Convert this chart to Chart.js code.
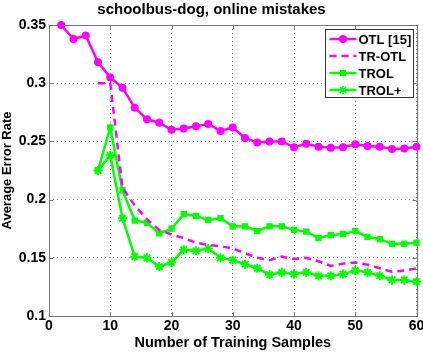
<!DOCTYPE html>
<html>
<head>
<meta charset="utf-8">
<script src="https://cdn.jsdelivr.net/npm/chart.js@4/dist/chart.umd.min.js"></script>
<style>
  html, body { margin: 0; padding: 0; background: #fff; }
  #wrap { width: 423px; height: 352px; position: relative; }
</style>
</head>
<body>
<div id="wrap"><canvas id="myChart"></canvas></div>
<script>
// values
var otlX = [2, 4, 6, 8, 10, 12, 14, 16, 18, 20, 22, 24, 26, 28, 30, 32, 34, 36, 38, 40, 42, 44, 46, 48, 50, 52, 54, 56, 58, 60];
var otlY = [0.350, 0.338, 0.341, 0.318, 0.305, 0.296, 0.279, 0.269, 0.266, 0.260, 0.261, 0.263, 0.265, 0.259, 0.262,
            0.253, 0.249, 0.250, 0.250, 0.245, 0.248, 0.2455, 0.2445, 0.245, 0.2475, 0.246, 0.2455, 0.2435, 0.244, 0.2455];

var sampleX = [8, 10, 12, 14, 16, 18, 20, 22, 24, 26, 28, 30, 32, 34, 36, 38, 40, 42, 44, 46, 48, 50, 52, 54, 56, 58, 60];
var trOtlY = [0.300, 0.300, 0.210, 0.195, 0.183, 0.174, 0.170, 0.167, 0.163, 0.161, 0.160, 0.158, 0.154, 0.150,
              0.148, 0.151, 0.149, 0.150, 0.147, 0.143, 0.145, 0.146, 0.144, 0.141, 0.138, 0.139, 0.141];
var trolY = [0.225, 0.262, 0.208, 0.182, 0.180, 0.171, 0.175, 0.1875, 0.186, 0.1825, 0.184, 0.177, 0.177, 0.173,
             0.177, 0.177, 0.174, 0.1725, 0.167, 0.1695, 0.1705, 0.173, 0.168, 0.166, 0.162, 0.162, 0.163];
var trolPlusY = [0.225, 0.238, 0.184, 0.151, 0.150, 0.1425, 0.146, 0.157, 0.156, 0.158, 0.150, 0.148, 0.1445, 0.141,
                 0.1355, 0.1375, 0.136, 0.1375, 0.1345, 0.1345, 0.136, 0.139, 0.1375, 0.1345, 0.131, 0.131, 0.1295];

var xTicks = [0, 10, 20, 30, 40, 50, 60];
var yTicks = [0.1, 0.15, 0.2, 0.25, 0.3, 0.35];

var MAGENTA = '#ff00ff';
var GREEN = '#00ff00';
var FONT = 'Liberation Sans, Arial, Helvetica, sans-serif';

function pts(xs, ys) {
    return xs.map(function (x, i) { return { x: x, y: ys[i] }; });
}

// box, inward ticks and the legend, MATLAB style
var matlabBox = {
    id: 'matlabBox',
    beforeDatasetsDraw: function (chart) {
        var a = chart.chartArea, c = chart.ctx;
        var xs = chart.scales.x, ys = chart.scales.y;
        c.save();
        c.strokeStyle = '#777';
        c.lineWidth = 1;
        c.beginPath();
        xTicks.forEach(function (t) {
            var px = Math.round(xs.getPixelForValue(t)) + 0.5;
            c.moveTo(px, a.bottom); c.lineTo(px, a.bottom - 4);
            c.moveTo(px, a.top); c.lineTo(px, a.top + 4);
        });
        yTicks.forEach(function (t) {
            var py = Math.round(ys.getPixelForValue(t)) + 0.5;
            c.moveTo(a.left, py); c.lineTo(a.left + 4, py);
            c.moveTo(a.right, py); c.lineTo(a.right - 4, py);
        });
        c.stroke();
        c.strokeRect(Math.round(a.left) + 0.5, Math.round(a.top) + 0.5,
                     Math.round(a.right - a.left), Math.round(a.bottom - a.top));
        c.restore();
    },
    afterDatasetsDraw: function (chart) {
        var c = chart.ctx, a = chart.chartArea;
        var bx = a.right - 92, by = a.top + 4, bw = 88, bh = 68;
        c.save();
        c.fillStyle = '#fff';
        c.fillRect(bx, by, bw, bh);
        c.strokeStyle = '#333';
        c.lineWidth = 1;
        c.strokeRect(Math.round(bx) + 0.5, Math.round(by) + 0.5, bw, bh);
        c.font = 'bold 13px ' + FONT;
        c.textBaseline = 'middle';
        chart.data.datasets.forEach(function (ds, i) {
            var ly = by + 10 + i * 17;
            var x0 = bx + 5, x1 = bx + 32;
            c.strokeStyle = ds.borderColor;
            c.lineWidth = 2.5;
            c.setLineDash(ds.borderDash || []);
            c.beginPath(); c.moveTo(x0, ly); c.lineTo(x1, ly); c.stroke();
            c.setLineDash([]);
            var mx = (x0 + x1) / 2;
            if (ds.pointStyle === 'circle' && ds.pointRadius) {
                c.fillStyle = ds.borderColor;
                c.beginPath(); c.arc(mx, ly, 4, 0, Math.PI * 2); c.fill();
            } else if (ds.pointStyle === 'rect') {
                c.fillStyle = ds.borderColor;
                c.fillRect(mx - 3, ly - 3, 6, 6);
            } else if (ds.pointStyle === 'star') {
                c.lineWidth = 1.5;
                c.beginPath();
                c.moveTo(mx - 4, ly); c.lineTo(mx + 4, ly);
                c.moveTo(mx, ly - 4); c.lineTo(mx, ly + 4);
                c.moveTo(mx - 3, ly - 3); c.lineTo(mx + 3, ly + 3);
                c.moveTo(mx - 3, ly + 3); c.lineTo(mx + 3, ly - 3);
                c.stroke();
            }
            c.fillStyle = '#000';
            c.fillText(ds.label, x1 + 2, ly + 1);
        });
        c.restore();
    }
};

var ctx = document.getElementById('myChart').getContext('2d');
var myChart = new Chart(ctx, {
    type: 'line',
    data: {
        datasets: [{
            label: 'OTL [15]',
            data: pts(otlX, otlY),
            borderColor: MAGENTA,
            backgroundColor: MAGENTA,
            borderWidth: 2.5,
            pointStyle: 'circle',
            pointRadius: 4,
            pointBorderWidth: 0,
            clip: false
        }, {
            label: 'TR-OTL',
            data: pts(sampleX, trOtlY),
            borderColor: MAGENTA,
            backgroundColor: MAGENTA,
            borderWidth: 2.5,
            borderDash: [7, 5],
            pointRadius: 0,
            clip: false
        }, {
            label: 'TROL',
            data: pts(sampleX, trolY),
            borderColor: GREEN,
            backgroundColor: GREEN,
            borderWidth: 2.5,
            pointStyle: 'rect',
            pointRadius: 4.5,
            pointBorderWidth: 0,
            clip: false
        }, {
            label: 'TROL+',
            data: pts(sampleX, trolPlusY),
            borderColor: GREEN,
            backgroundColor: GREEN,
            borderWidth: 2.5,
            pointStyle: 'star',
            pointRadius: 4.5,
            pointBorderWidth: 2,
            clip: false
        }]
    },
    options: {
        responsive: true,
        maintainAspectRatio: false,
        animation: false,
        layout: { padding: { left: 0, right: 0, top: 0, bottom: 0 } },
        plugins: {
            legend: { display: false },
            tooltip: { enabled: false },
            title: {
                display: true,
                text: 'schoolbus-dog, online mistakes',
                color: '#000',
                font: { family: FONT, size: 15, weight: 'bold' },
                padding: { top: 1, bottom: 6 }
            }
        },
        scales: {
            x: {
                type: 'linear',
                min: 0, max: 60,
                afterFit: function (s) {
                    s.height = 36;
                    s.paddingLeft = 0;
                    s.paddingRight = 6;
                },
                ticks: {
                    stepSize: 10,
                    color: '#000',
                    padding: 2,
                    maxRotation: 0,
                    font: { family: FONT, size: 14, weight: 'bold' }
                },
                grid: { color: '#999', drawTicks: false },
                border: { display: false, dash: [1, 3] },
                title: {
                    display: true,
                    text: 'Number of Training Samples',
                    color: '#000',
                    padding: 0,
                    font: { family: FONT, size: 14.5, weight: 'bold' }
                }
            },
            y: {
                min: 0.1, max: 0.35,
                afterFit: function (s) { s.width = 49; },
                ticks: {
                    stepSize: 0.05,
                    color: '#000',
                    padding: 3,
                    font: { family: FONT, size: 14, weight: 'bold' },
                    callback: function (v) { return String(+v.toFixed(2)); }
                },
                grid: { color: '#999', drawTicks: false },
                border: { display: false, dash: [1, 3] },
                title: {
                    display: true,
                    text: 'Average Error Rate',
                    color: '#000',
                    padding: 0,
                    font: { family: FONT, size: 13, weight: 'bold' }
                }
            }
        }
    },
    plugins: [matlabBox]
});
</script>
</body>
</html>
